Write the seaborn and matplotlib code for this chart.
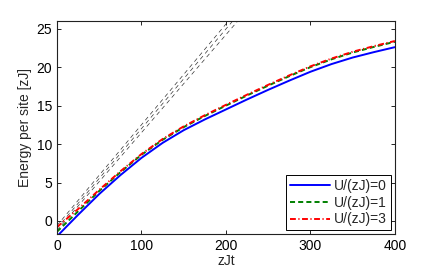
import numpy as np
import pandas as pd
import matplotlib
matplotlib.use("Agg")
import matplotlib.pyplot as plt
import seaborn as sns

# ---- data ----
t = [0, 25, 50, 75, 100, 125, 150, 175, 200, 225, 250, 275, 300, 325, 350, 375, 400]
e_u0 = [-2.0, 0.8, 3.5, 5.95, 8.2, 10.15, 11.8, 13.2, 14.5, 15.8, 17.05, 18.25, 19.4, 20.4, 21.25, 21.95, 22.6]
e_u1 = [-1.4, 1.25, 3.9, 6.33, 8.6, 10.55, 12.2, 13.65, 15.0, 16.32, 17.6, 18.83, 20.0, 21.02, 21.9, 22.63, 23.3]
e_u3 = [-0.8, 1.55, 4.05, 6.45, 8.7, 10.65, 12.3, 13.75, 15.1, 16.42, 17.7, 18.93, 20.1, 21.12, 22.0, 22.73, 23.4]
labels = ["U/(zJ)=0", "U/(zJ)=1", "U/(zJ)=3"]

# short-time asymptotes (black dashed): value at t=0, and t where they reach E=26
asym_start_e = [-0.6, -0.95, -1.25]
asym_end_t = [203, 208, 214]
asym_end_e = [26, 26, 26]

sns.set_style("ticks")
plt.rcParams["font.family"] = ["Liberation Sans", "DejaVu Sans"]

fig = plt.figure(figsize=(4.36, 2.75), dpi=100)
ax = fig.add_axes([0.1307, 0.149, 0.775, 0.7746])

for s, te, ee in zip(asym_start_e, asym_end_t, asym_end_e):
    sns.lineplot(x=[0, te], y=[s, ee], ax=ax, color="#333333", linewidth=0.5,
                 linestyle=(0, (6, 5)), legend=False)

styles = [("#0000ff", "-"), ("#008000", (0, (2.6, 1.6))), ("#ff0000", (0, (3.0, 1.3, 0.6, 1.3)))]
for vals, lab, (c, ls) in zip([e_u0, e_u1, e_u3], labels, styles):
    sns.lineplot(x=t, y=vals, ax=ax, color=c, linestyle=ls, linewidth=1.4, label=lab)

ax.set_xlim(0, 400)
ax.set_ylim(-1.7, 26)
ax.set_xticks([0, 100, 200, 300, 400])
ax.set_yticks([0, 5, 10, 15, 20, 25])
ax.set_xlabel("zJt", fontsize=10, labelpad=1)
ax.set_ylabel("Energy per site [zJ]", fontsize=10, labelpad=3)
ax.tick_params(direction="in", top=True, right=True, labelsize=10, length=3, width=0.6, colors="black")
for sp in ax.spines.values():
    sp.set_visible(True)
    sp.set_linewidth(0.8)
    sp.set_color("#222222")

leg = ax.legend(loc="lower right", fontsize=10, frameon=True, fancybox=False,
                edgecolor="black", framealpha=1, handlelength=2.9, handletextpad=0.3,
                borderpad=0.25, labelspacing=0.2, borderaxespad=0.3)
leg.get_frame().set_linewidth(0.7)

fig.savefig("out.png", dpi=100)
